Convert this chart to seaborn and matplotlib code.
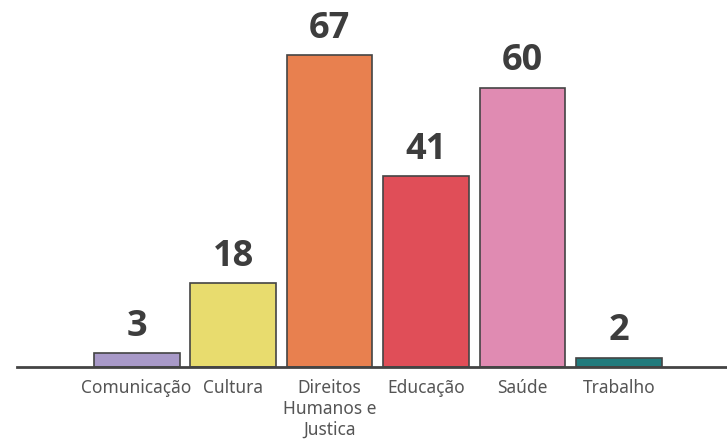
import matplotlib
matplotlib.use("Agg")
import matplotlib.pyplot as plt
import seaborn as sns
import pandas as pd

categories = ["Comunicação", "Cultura", "Direitos\nHumanos e\nJustica", "Educação", "Saúde", "Trabalho"]
values = [3, 18, 67, 41, 60, 2]
colors = ["#a899c8", "#e8dc6e", "#e8804f", "#e04e58", "#e08bb2", "#217b7d"]

df = pd.DataFrame({"area": categories, "count": values})

sns.set_style("white")
plt.rcParams["font.family"] = ["Noto Sans", "DejaVu Sans"]

fig = plt.figure(figsize=(7.27, 4.42), dpi=100)
ax = fig.add_axes([0.0234, 0.1697, 0.9766, 0.8303])

sns.barplot(data=df, x="area", y="count", hue="area", palette=colors, saturation=1,
            legend=False, width=0.89, edgecolor="#444444", linewidth=1.2, ax=ax)

for c in ax.containers:
    ax.bar_label(c, padding=6, fontsize=26, fontweight="bold", color="#3d3d3d",
                 family=["Open Sans", "DejaVu Sans"])

ax.set_xlim(-1.24, 6.12)
ax.set_ylim(0, 78.8)
ax.set_xlabel("")
ax.set_ylabel("")
ax.set_yticks([])
sns.despine(ax=ax, left=True)
ax.spines["bottom"].set_color("#444444")
ax.spines["bottom"].set_linewidth(2)
ax.tick_params(axis="x", length=0, pad=9, labelsize=12.5, labelcolor="#555555")
for t in ax.get_xticklabels():
    t.set_linespacing(1.2)
    t.set_verticalalignment("top")

fig.savefig("out.png", dpi=100)
